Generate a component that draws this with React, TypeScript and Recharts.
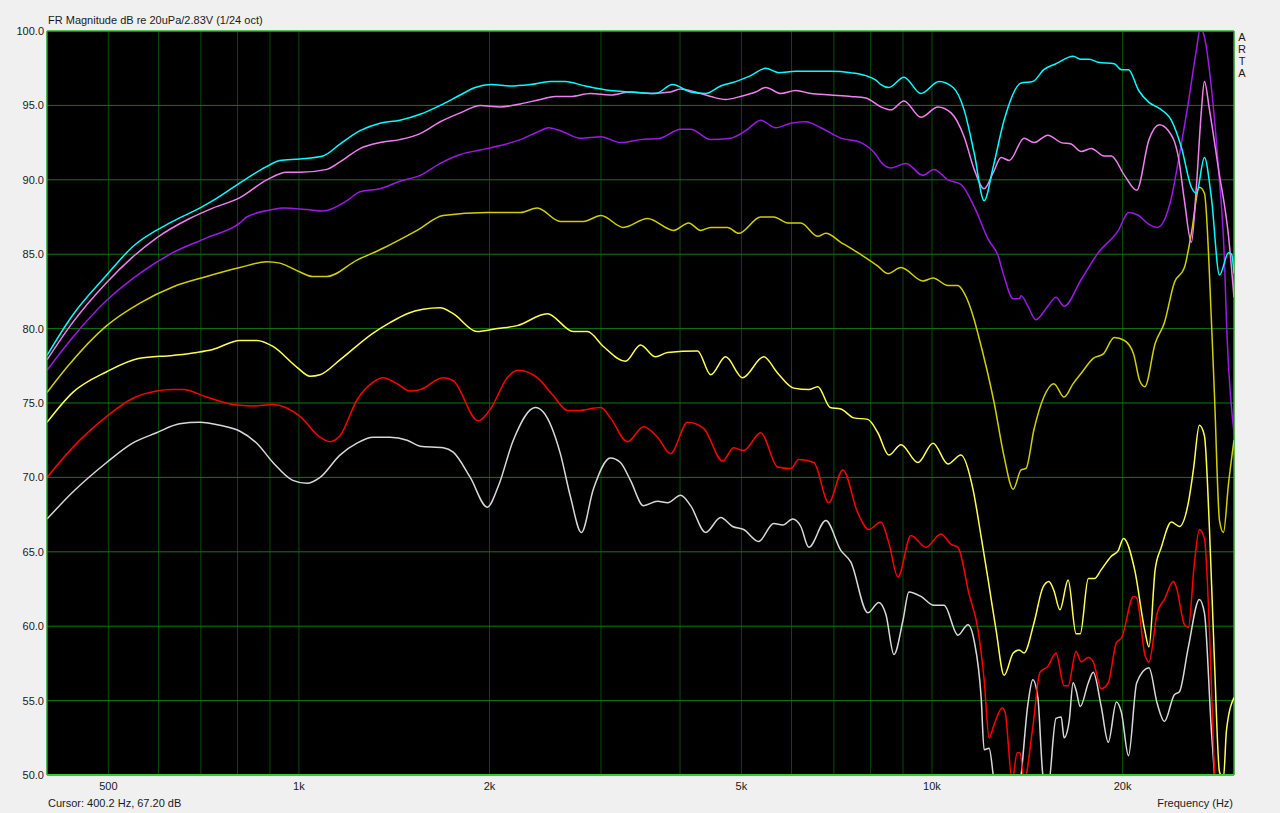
import React from 'react';
import { LineChart, Line, XAxis, YAxis, CartesianGrid, ReferenceLine } from 'recharts';

// [frequency Hz, level dB]
const cyan: [number, number][] = [[400,78.2],[439,80.9],[497,83.6],[546,85.5],[632,87.2],[697,88.1],[731,88.6],[807,89.8],[890,90.9],[933,91.3],[1004,91.4],[1091,91.6],[1161,92.4],[1249,93.3],[1343,93.8],[1444,94.0],[1554,94.4],[1672,95.0],[1798,95.7],[1898,96.2],[2014,96.4],[2158,96.3],[2321,96.4],[2496,96.6],[2635,96.6],[2835,96.3],[3105,96.0],[3340,95.9],[3659,95.8],[3893,96.4],[4157,95.9],[4390,95.8],[4637,96.3],[4897,96.6],[5172,97.0],[5462,97.5],[5727,97.2],[6093,97.3],[6436,97.3],[6906,97.3],[7445,97.2],[7862,97.0],[8153,96.7],[8304,96.4],[8549,96.2],[9032,96.9],[9608,95.8],[10260,96.6],[10800,96.2],[11240,94.7],[11660,91.8],[12090,88.6],[12500,90.9],[13000,94.0],[13830,96.5],[14430,96.6],[15020,97.4],[15700,97.8],[16710,98.3],[17210,98.1],[17720,98.1],[18310,97.9],[19410,97.8],[19920,97.4],[20440,97.4],[21210,96.0],[22020,95.2],[22860,94.8],[23890,94.0],[24770,92.2],[25690,89.5],[26160,89.1],[26940,91.5],[27630,88.8],[28460,83.6],[29410,85.1],[29740,85.0],[30000,83.7]];

const pink: [number, number][] = [[400,77.9],[439,80.4],[497,83.1],[546,84.8],[596,86.1],[672,87.4],[731,88.1],[807,88.8],[890,90.0],[957,90.5],[1004,90.5],[1107,90.7],[1161,91.2],[1249,92.1],[1343,92.5],[1444,92.7],[1554,93.1],[1672,93.9],[1798,94.5],[1934,95.0],[2080,94.9],[2238,95.1],[2407,95.4],[2541,95.6],[2685,95.6],[2887,95.8],[3105,95.7],[3340,95.9],[3593,95.8],[3864,95.9],[4008,96.1],[4233,95.9],[4471,95.6],[4721,95.4],[4982,95.6],[5266,95.9],[5462,96.2],[5770,95.8],[6093,96.0],[6436,95.8],[6906,95.7],[7445,95.6],[7862,95.5],[8304,94.9],[8612,94.7],[9032,95.3],[9608,94.2],[10220,94.9],[10720,94.5],[11240,92.9],[11660,90.7],[12090,89.4],[12500,90.5],[12860,91.5],[13250,91.3],[13980,92.8],[14490,92.5],[15240,93.0],[16000,92.5],[16590,92.4],[17210,91.9],[17850,92.1],[18710,91.6],[19200,91.6],[20140,90.3],[21060,89.3],[22020,92.7],[22860,93.7],[23630,93.3],[24510,91.5],[25050,88.6],[25690,85.8],[26160,89.5],[26650,94.7],[26940,96.6],[27440,94.7],[28360,90.7],[29410,86.2],[30000,82.1]];

const purple: [number, number][] = [[400,77.2],[439,79.4],[497,81.9],[560,83.7],[632,85.1],[715,86.1],[807,87.1],[827,87.5],[910,88.0],[943,88.1],[1030,88.0],[1091,87.9],[1191,88.6],[1249,89.2],[1343,89.4],[1444,89.9],[1554,90.3],[1672,91.1],[1798,91.7],[1934,92.0],[2080,92.3],[2238,92.7],[2407,93.3],[2477,93.5],[2588,93.3],[2784,92.8],[3000,92.9],[3220,92.5],[3464,92.7],[3726,92.8],[4008,93.4],[4157,93.4],[4471,92.7],[4808,92.8],[5078,93.3],[5364,94.0],[5666,93.5],[5985,93.8],[6319,93.9],[6675,93.5],[7178,92.8],[7721,92.5],[8153,91.7],[8304,91.2],[8612,90.8],[9098,91.1],[9677,90.3],[10070,90.7],[10600,90.0],[11110,89.7],[11660,88.2],[12270,86.0],[12720,84.9],[13000,83.5],[13440,82.0],[13730,82.0],[13830,82.2],[14180,81.5],[14590,80.6],[15240,81.5],[15700,82.1],[16170,81.5],[17210,83.3],[18310,85.1],[19700,86.6],[20440,87.8],[21210,87.6],[22020,87.0],[22690,86.8],[23290,87.3],[23890,88.8],[24510,91.3],[25410,95.2],[26160,98.7],[26550,100.2],[26940,99.6],[27630,96.2],[28360,90.7],[28980,84.5],[29190,80.5],[30000,73.0]];

const olive: [number, number][] = [[400,75.7],[430,77.4],[497,80.2],[560,81.7],[632,82.8],[715,83.5],[807,84.1],[890,84.5],[933,84.4],[1004,83.8],[1052,83.5],[1107,83.5],[1235,84.6],[1358,85.4],[1537,86.6],[1690,87.6],[1984,87.8],[2102,87.8],[2238,87.8],[2380,88.1],[2588,87.2],[2814,87.2],[3000,87.6],[3256,86.8],[3553,87.4],[3907,86.6],[4128,87.1],[4311,86.6],[4471,86.8],[4756,86.8],[4950,86.4],[5364,87.5],[5623,87.5],[5918,87.1],[6206,87.1],[6602,86.2],[6797,86.4],[7178,85.8],[7638,85.1],[8213,84.2],[8518,83.7],[8934,84.1],[9677,83.2],[10040,83.4],[10600,82.9],[10990,82.9],[11240,82.4],[11660,80.6],[11830,79.6],[12540,75.0],[13000,71.4],[13440,69.2],[13830,70.5],[14080,70.6],[14490,73.2],[15020,75.4],[15580,76.3],[16170,75.4],[16710,76.3],[17210,77.0],[17980,78.0],[18650,78.3],[19410,79.4],[20140,79.2],[20820,78.3],[21290,76.5],[21690,76.1],[22520,79.0],[23290,80.4],[24150,83.1],[25050,84.1],[25690,86.4],[26450,89.5],[26940,89.1],[27630,80.6],[27950,75.4],[28460,67.1],[28870,66.3],[29410,69.6],[30000,72.5]];

const lightYellow: [number, number][] = [[400,73.7],[439,75.7],[497,77.1],[560,78.0],[632,78.2],[690,78.4],[731,78.6],[807,79.2],[858,79.2],[910,78.8],[993,77.4],[1041,76.8],[1080,76.9],[1161,77.9],[1310,79.7],[1393,80.4],[1482,81.0],[1571,81.3],[1672,81.4],[1753,81.0],[1912,79.8],[2057,80.0],[2213,80.2],[2468,81.0],[2714,79.8],[2855,79.8],[3027,78.8],[3279,77.8],[3464,78.9],[3659,78.1],[3823,78.4],[4264,78.5],[4471,76.9],[4721,78.1],[5022,76.7],[5422,78.1],[5706,77.0],[6049,76.0],[6389,75.9],[6602,76.1],[6906,74.7],[7178,74.6],[7527,74.0],[7919,73.9],[8213,73.0],[8549,71.5],[8934,72.2],[9502,71.0],[10040,72.3],[10600,70.9],[11110,71.5],[11610,69.2],[11960,66.0],[12270,63.1],[12630,59.7],[13000,56.7],[13440,58.2],[13730,58.4],[13980,58.2],[14490,60.2],[14970,62.6],[15300,63.0],[15580,62.4],[15930,61.1],[16410,63.1],[16890,59.5],[17150,59.5],[17660,63.2],[18050,63.2],[18510,63.8],[19200,64.7],[19700,65.1],[20070,65.9],[20900,63.8],[21690,59.7],[22020,58.6],[22520,63.8],[23030,65.3],[23890,67.0],[24600,66.7],[25410,68.3],[25880,70.5],[26450,73.5],[26940,72.8],[27440,66.5],[27950,57.5],[28460,50.2],[28870,49.8],[29190,53.0],[30000,55.2]];

const red: [number, number][] = [[400,70.0],[439,72.0],[497,74.1],[546,75.3],[596,75.8],[632,75.9],[656,75.9],[715,75.4],[786,74.9],[846,74.8],[910,74.9],[1004,74.1],[1080,72.7],[1120,72.4],[1161,72.8],[1235,75.2],[1310,76.4],[1358,76.7],[1429,76.3],[1498,75.8],[1554,75.9],[1690,76.7],[1753,76.5],[1919,73.8],[2014,74.7],[2133,76.7],[2220,77.2],[2380,76.7],[2522,75.5],[2655,74.5],[2754,74.5],[3000,74.7],[3105,74.0],[3304,72.4],[3502,73.4],[3686,72.7],[3864,71.6],[4112,73.7],[4358,73.3],[4670,71.1],[4861,72.0],[5041,71.8],[5364,73.0],[5706,70.7],[5985,70.6],[6160,71.2],[6507,71.0],[6871,68.3],[7231,70.5],[7638,67.6],[7948,66.5],[8304,67.0],[8549,65.6],[8836,63.3],[9265,66.1],[9783,65.3],[10330,66.2],[10720,65.5],[10990,65.3],[11440,62.2],[11830,59.7],[12090,56.4],[12310,52.5],[12540,53.4],[12910,54.5],[13050,54.2],[13390,49.6],[13630,51.5],[13780,51.5],[13980,49.6],[14430,53.2],[14810,56.9],[15240,57.3],[15700,58.2],[16170,56.0],[16410,56.0],[16890,58.3],[17210,57.6],[17660,57.9],[17980,57.6],[18510,55.8],[18990,56.2],[19560,58.9],[19920,59.2],[20820,62.0],[21060,61.9],[21690,58.1],[22020,57.6],[22690,60.9],[23290,61.8],[24060,63.0],[24330,62.6],[25050,60.1],[25410,59.9],[25970,64.2],[26450,66.5],[26940,65.9],[27440,59.7],[27950,50.0],[28360,46.0],[30000,46.0]];

const white: [number, number][] = [[400,67.2],[439,69.0],[497,71.0],[546,72.3],[596,73.0],[648,73.6],[697,73.7],[750,73.5],[807,73.1],[858,72.3],[910,71.0],[978,69.8],[1030,69.6],[1080,70.0],[1161,71.5],[1235,72.3],[1310,72.7],[1393,72.7],[1482,72.5],[1554,72.1],[1690,72.0],[1753,71.7],[1865,70.0],[1984,68.0],[2065,69.4],[2181,72.5],[2363,74.7],[2432,74.4],[2588,71.6],[2685,68.7],[2794,66.3],[2918,69.2],[3105,71.3],[3220,71.0],[3340,69.8],[3502,68.1],[3686,68.4],[3823,68.3],[4008,68.8],[4157,68.1],[4390,66.3],[4637,67.3],[4843,66.7],[5041,66.5],[5324,65.7],[5623,66.9],[5812,66.8],[6027,67.2],[6206,66.7],[6389,65.3],[6797,67.1],[7178,65.1],[7445,64.3],[7919,60.9],[8243,61.6],[8456,60.8],[8709,58.1],[9000,60.4],[9196,62.3],[9608,62.0],[10070,61.4],[10450,61.4],[10990,59.4],[11400,60.1],[11660,59.0],[11960,55.2],[12090,51.7],[12310,51.8],[12540,49.5],[13000,47.0],[13730,49.0],[14180,54.8],[14430,56.4],[14700,55.2],[14970,50.0],[15240,49.0],[15700,53.8],[16000,53.9],[16170,52.5],[16470,53.6],[16710,56.2],[16890,55.7],[17150,54.6],[17660,56.2],[17980,56.9],[18510,54.6],[18990,52.2],[19560,54.9],[19920,54.2],[20440,51.3],[21060,56.2],[22020,57.2],[22690,54.8],[23290,53.6],[24150,55.4],[24600,55.6],[25410,58.6],[26450,61.8],[26940,60.9],[27630,53.0],[27950,50.0],[28360,46.0],[30000,46.0]];

const xGridTicks = [500, 600, 700, 800, 900, 1000, 2000, 3000, 4000, 5000, 6000, 7000, 8000, 9000, 10000, 20000];
const xLabelTicks = [500, 1000, 2000, 5000, 10000, 20000];
const xLabelTexts = ['500', '1k', '2k', '5k', '10k', '20k'];
const yTicks = [50, 55, 60, 65, 70, 75, 80, 85, 90, 95, 100];

const series = [
  { name: 'white', points: white, color: '#d8d8d8' },
  { name: 'red', points: red, color: '#ff0000' },
  { name: 'lightYellow', points: lightYellow, color: '#ffff50' },
  { name: 'olive', points: olive, color: '#d0d000' },
  { name: 'purple', points: purple, color: '#9a1ae6' },
  { name: 'pink', points: pink, color: '#f080f0' },
  { name: 'cyan', points: cyan, color: '#00ffff' },
];

const FONT = '"Liberation Sans", Arial, sans-serif';
const textStyle: React.CSSProperties = { position: 'absolute', fontFamily: FONT, fontSize: 11, color: '#1a1a1a', whiteSpace: 'nowrap', lineHeight: '12px' };

const xLabel = (v: number) => {
  const i = xLabelTicks.indexOf(v);
  return i >= 0 ? xLabelTexts[i] : '';
};

export default function App() {
  return (
    <div style={{ position: 'absolute', left: 0, top: 0, width: 1280, height: 813, background: '#f0f0f0', overflow: 'hidden' }}>
      <LineChart width={1280} height={813} margin={{ top: 31, right: 46, bottom: 0, left: 0 }}>
        <CartesianGrid fill="#000000" stroke="#0a4a0a" horizontal={false} vertical={true} />
        <CartesianGrid stroke="#107a10" horizontal={true} vertical={false} />
        <XAxis
          dataKey="f"
          type="number"
          scale="log"
          domain={[400, 30000]}
          allowDataOverflow
          ticks={xGridTicks}
          interval={0}
          tickFormatter={xLabel}
          height={38}
          tickSize={3}
          tickMargin={4}
          tickLine={false}
          axisLine={{ stroke: '#33cc33', strokeWidth: 2 }}
          tick={{ fill: '#1a1a1a', fontSize: 11, fontFamily: FONT }}
        />
        <YAxis
          type="number"
          domain={[50, 100]}
          allowDataOverflow
          ticks={yTicks}
          interval={0}
          tickFormatter={(v: number) => v.toFixed(1)}
          width={47}
          tickSize={3}
          tickMargin={0}
          tickLine={false}
          axisLine={{ stroke: '#33cc33', strokeWidth: 1 }}
          tick={{ fill: '#1a1a1a', fontSize: 11, fontFamily: FONT }}
        />
        <ReferenceLine y={100} stroke="#33cc33" strokeWidth={1} ifOverflow="visible" />
        <ReferenceLine x={30000} stroke="#33cc33" strokeWidth={1} ifOverflow="visible" />
        {series.map((s) => (
          <Line
            key={s.name}
            data={s.points.map(([f, db]) => ({ f, db }))}
            dataKey="db"
            type="monotone"
            stroke={s.color}
            strokeWidth={1.5}
            dot={false}
            activeDot={false}
            isAnimationActive={false}
          />
        ))}
      </LineChart>
      <div style={{ ...textStyle, left: 48, top: 14 }}>FR Magnitude dB re 20uPa/2.83V (1/24 oct)</div>
      <div style={{ ...textStyle, left: 48, top: 797 }}>Cursor: 400.2 Hz, 67.20 dB</div>
      <div style={{ ...textStyle, right: 1280 - 1233, top: 797 }}>Frequency (Hz)</div>
      <div style={{ ...textStyle, left: 1237, top: 31, width: 10, textAlign: 'center', lineHeight: '12px' }}>
        A<br />R<br />T<br />A
      </div>
    </div>
  );
}
